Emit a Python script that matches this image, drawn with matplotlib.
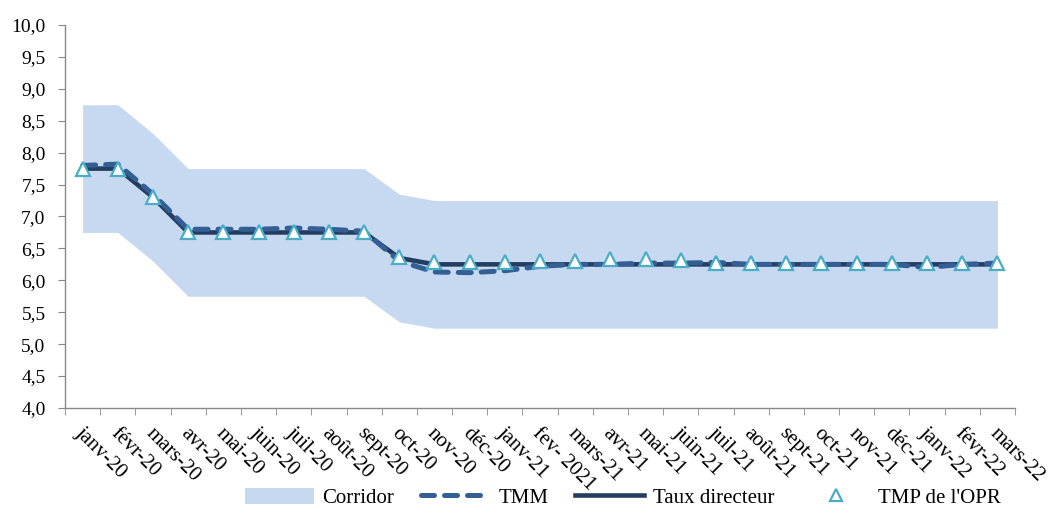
import matplotlib
matplotlib.use("Agg")
import matplotlib.pyplot as plt
from matplotlib.ticker import FixedLocator, FuncFormatter
from matplotlib.patches import Patch
from matplotlib.lines import Line2D
import numpy as np

plt.rcParams['font.family'] = ['Liberation Serif', 'DejaVu Serif']

categories = ["janv-20", "févr-20", "mars-20", "avr-20", "mai-20", "juin-20", "juil-20",
              "août-20", "sept-20", "oct-20", "nov-20", "déc-20", "janv-21", "fev- 2021",
              "mars-21", "avr-21", "mai-21", "juin-21", "juil-21", "août-21", "sept-21",
              "oct-21", "nov-21", "déc-21", "janv-22", "févr-22", "mars-22"]

corridor_upper = [8.75, 8.75, 8.30, 7.75, 7.75, 7.75, 7.75, 7.75, 7.75, 7.35, 7.25, 7.25, 7.25, 7.25,
                  7.25, 7.25, 7.25, 7.25, 7.25, 7.25, 7.25, 7.25, 7.25, 7.25, 7.25, 7.25, 7.25]
corridor_lower = [6.75, 6.75, 6.30, 5.75, 5.75, 5.75, 5.75, 5.75, 5.75, 5.35, 5.25, 5.25, 5.25, 5.25,
                  5.25, 5.25, 5.25, 5.25, 5.25, 5.25, 5.25, 5.25, 5.25, 5.25, 5.25, 5.25, 5.25]
tmm = [7.80, 7.82, 7.35, 6.80, 6.80, 6.80, 6.82, 6.80, 6.77, 6.30, 6.13, 6.12, 6.15, 6.22,
       6.25, 6.25, 6.27, 6.27, 6.28, 6.25, 6.25, 6.25, 6.25, 6.25, 6.20, 6.25, 6.27]
taux_directeur = [7.75, 7.75, 7.30, 6.75, 6.75, 6.75, 6.75, 6.75, 6.75, 6.35, 6.25, 6.25, 6.25, 6.25,
                  6.25, 6.25, 6.25, 6.25, 6.25, 6.25, 6.25, 6.25, 6.25, 6.25, 6.25, 6.25, 6.25]
tmp_opr = [7.75, 7.75, 7.30, 6.75, 6.75, 6.75, 6.75, 6.75, 6.75, 6.37, 6.28, 6.28, 6.28, 6.30,
           6.31, 6.33, 6.34, 6.32, 6.27, 6.27, 6.27, 6.27, 6.27, 6.27, 6.27, 6.27, 6.27]

c_corr = "#C6D9F0"
c_tmm = "#335F95"
c_td = "#233E60"
c_tmp = "#4BACC6"
dash = (0, (2.6, 2.0))

fig = plt.figure(figsize=(10.49, 5.16), dpi=100)
ax = fig.add_axes([0.062, 0.2093, 0.9056, 0.7423])

x = np.arange(len(categories))
ax.fill_between(x, corridor_lower, corridor_upper, color=c_corr, linewidth=0, zorder=1)
ax.plot(x, tmm, color=c_tmm, linewidth=3.6, linestyle=dash, zorder=3,
        solid_capstyle='round', dash_capstyle='round')
ax.plot(x, taux_directeur, color=c_td, linewidth=3.3, zorder=2)
ax.plot(x, tmp_opr, linestyle='none', marker='^', markersize=10, markerfacecolor='white',
        markeredgecolor=c_tmp, markeredgewidth=1.6, zorder=4)

ax.set_xlim(-0.5, len(categories) - 0.5)
ax.set_ylim(4.0, 10.0)
ax.set_yticks(np.arange(4.0, 10.01, 0.5))
ax.yaxis.set_major_formatter(FuncFormatter(lambda v, p: f"{v:.1f}".replace('.', ',')))
ax.tick_params(axis='y', labelsize=14, length=5, color='#888888', direction='out', pad=9)

ax.set_xticks(x)
ax.set_xticklabels([])
ax.xaxis.set_minor_locator(FixedLocator(np.arange(-0.5, len(categories), 1.0)))
ax.tick_params(axis='x', which='major', length=0)
ax.tick_params(axis='x', which='minor', length=5, color='#888888', direction='out')

for xi, lab in zip(x, categories):
    ax.annotate(lab, xy=(xi, 0), xycoords=('data', 'axes fraction'),
                xytext=(2, -16), textcoords='offset pixels',
                rotation=-45, rotation_mode='anchor', ha='left', va='top', fontsize=15)

for s in ['top', 'right']:
    ax.spines[s].set_visible(False)
for s in ['left', 'bottom']:
    ax.spines[s].set_color('#888888')
    ax.spines[s].set_linewidth(1.0)

handles = [Patch(facecolor=c_corr, edgecolor='none'),
           Line2D([], [], color=c_tmm, linewidth=3.6, linestyle=dash, dash_capstyle='round'),
           Line2D([], [], color=c_td, linewidth=3.3),
           Line2D([], [], linestyle='none', marker='^', markersize=8, markerfacecolor='white',
                  markeredgecolor=c_tmp, markeredgewidth=1.6)]
labels = ["Corridor", "TMM", "Taux directeur", "TMP de l'OPR"]
fig.legend(handles, labels, loc='center', bbox_to_anchor=(0.594, 0.035), ncol=4, frameon=False,
           fontsize=15, handlelength=3.3, handleheight=0.8, columnspacing=1.3, handletextpad=0.4,
           borderpad=0.2)

fig.savefig("out.png", dpi=100)
